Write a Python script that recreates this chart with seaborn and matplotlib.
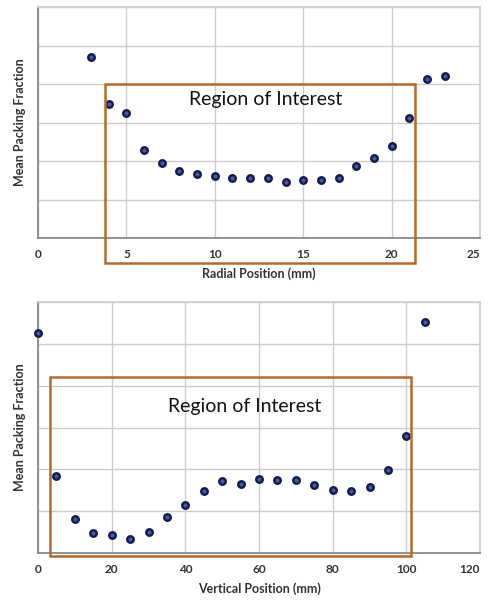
import numpy as np
import pandas as pd
import seaborn as sns
import matplotlib.pyplot as plt
from matplotlib.patches import Rectangle

# radial profile (y in grid units, tick labels hidden in the original)
radial_mm = [3, 4, 5, 6, 7, 8, 9, 10, 11, 12, 13, 14, 15, 16, 17, 18, 19, 20, 21, 22, 23]
radial_pf = [4.70, 3.49, 3.24, 2.28, 1.95, 1.75, 1.67, 1.61, 1.56, 1.56, 1.56, 1.45,
             1.50, 1.50, 1.56, 1.87, 2.09, 2.40, 3.13, 4.14, 4.22]

# vertical profile
vertical_mm = [0, 5, 10, 15, 20, 25, 30, 35, 40, 45, 50, 55, 60, 65, 70, 75, 80, 85,
               90, 95, 100, 105]
vertical_pf = [5.27, 1.85, 0.82, 0.48, 0.42, 0.34, 0.51, 0.87, 1.15, 1.49, 1.73, 1.66,
               1.77, 1.74, 1.74, 1.63, 1.51, 1.49, 1.57, 1.99, 2.80, 5.52]

radial_ticks = [0, 5, 10, 15, 20, 25]
vertical_ticks = [0, 20, 40, 60, 80, 100, 120]

sns.set_style("white")
plt.rcParams['font.family'] = ['Lato', 'DejaVu Sans']

fig = plt.figure(figsize=(4.89, 6.03), dpi=100)
ax1 = fig.add_axes([0.0777, 0.6053, 0.904, 0.383])
ax2 = fig.add_axes([0.0777, 0.0829, 0.904, 0.416])

box_color = '#b36a2c'


def style_axes(ax, xticks, xlabel):
    ax.set_xlim(xticks[0], xticks[-1])
    ax.set_ylim(0, 6)
    ax.set_xticks(xticks)
    ax.set_yticks(np.arange(0, 7))
    ax.set_yticklabels([])
    ax.tick_params(axis='x', length=0, pad=8, labelsize=8.5)
    ax.tick_params(axis='y', length=0)
    for lab in ax.get_xticklabels():
        lab.set_fontweight('bold')
        lab.set_color('#333333')
    ax.get_xticklabels()[-1].set_horizontalalignment('right')
    ax.grid(True, color='#cccccc', linewidth=1)
    ax.set_axisbelow(True)
    ax.spines['left'].set_color('#8a8a8a')
    ax.spines['bottom'].set_color('#8a8a8a')
    ax.spines['top'].set_color('#d0d0d0')
    ax.spines['right'].set_color('#d0d0d0')
    for s in ax.spines.values():
        s.set_linewidth(1.3)
    ax.set_xlabel(xlabel, fontsize=9, fontweight='bold', color='#333333', labelpad=5)
    ax.set_ylabel('Mean Packing Fraction', fontsize=9, fontweight='bold',
                  color='#333333', labelpad=5)


df_r = pd.DataFrame({'x': radial_mm, 'y': radial_pf})
sns.scatterplot(data=df_r, x='x', y='y', ax=ax1, s=22, color='#4a5a98',
                edgecolor='#111a50', linewidth=1.7, zorder=3)
style_axes(ax1, radial_ticks, 'Radial Position (mm)')
ax1.add_patch(Rectangle((3.77, -0.64), 21.32 - 3.77, 4.0 + 0.64, fill=False,
                        edgecolor=box_color, linewidth=1.8, clip_on=False, zorder=4))
ax1.text(12.9, 3.61, 'Region of Interest', fontsize=14, ha='center', va='center',
         color='#111111')

df_v = pd.DataFrame({'x': vertical_mm, 'y': vertical_pf})
sns.scatterplot(data=df_v, x='x', y='y', ax=ax2, s=22, color='#4a5a98',
                edgecolor='#111a50', linewidth=1.7, zorder=3, clip_on=False)
style_axes(ax2, vertical_ticks, 'Vertical Position (mm)')
ax2.add_patch(Rectangle((3.35, -0.06), 101.2 - 3.35, 4.21 + 0.06, fill=False,
                        edgecolor=box_color, linewidth=1.8, clip_on=False, zorder=4))
ax2.text(56.2, 3.51, 'Region of Interest', fontsize=14, ha='center', va='center',
         color='#111111')

fig.savefig('out.png', dpi=100)
